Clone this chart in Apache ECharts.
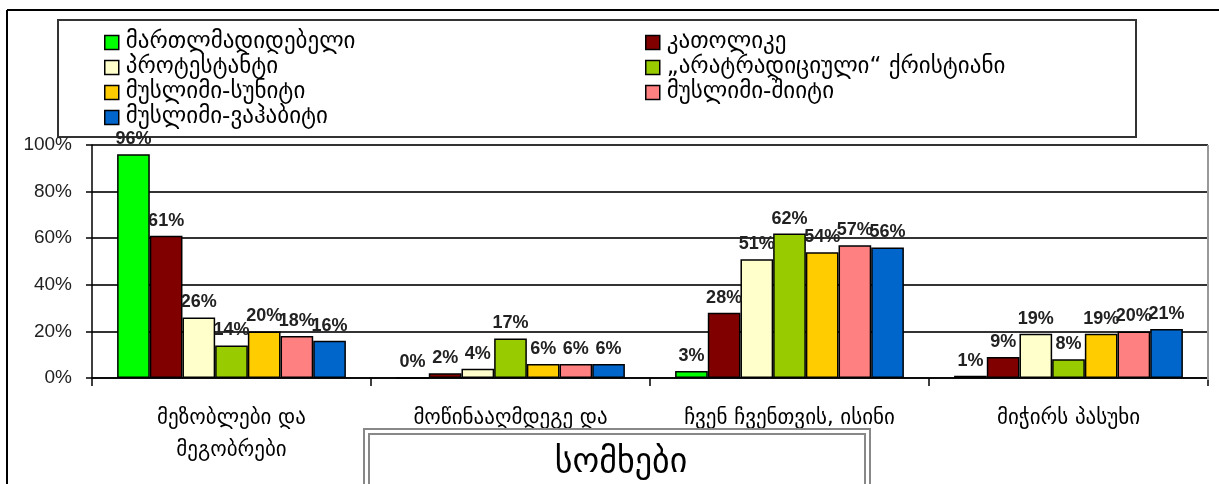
<!DOCTYPE html>
<html>
<head>
<meta charset="utf-8">
<script src="https://cdn.jsdelivr.net/npm/echarts@6/dist/echarts.min.js"></script>
<style>
html,body{margin:0;padding:0;background:#fff;}
#c{width:1219px;height:484px;}
</style>
</head>
<body>
<div id="c"></div>
<script>
const categories = [
  'მეზობლები და\nმეგობრები',
  'მოწინააღმდეგე და',
  'ჩვენ ჩვენთვის, ისინი',
  'მიჭირს პასუხი'
];
const seriesNames = [
  'მართლმადიდებელი',
  'კათოლიკე',
  'პროტესტანტი',
  '„არატრადიციული“ ქრისტიანი',
  'მუსლიმი-სუნიტი',
  'მუსლიმი-შიიტი',
  'მუსლიმი-ვაჰაბიტი'
];
const orthodox   = [96, 0, 3, 1];
const catholic   = [61, 2, 28, 9];
const protestant = [26, 4, 51, 19];
const nontrad    = [14, 17, 62, 8];
const sunni      = [20, 6, 54, 19];
const shia       = [18, 6, 57, 20];
const wahhabi    = [16, 6, 56, 21];
const yTicks = [0, 20, 40, 60, 80, 100];
const titleText = 'სომხები';

const colors = ['#00FF00', '#800000', '#FFFFCC', '#99CC00', '#FFCC00', '#FF8080', '#0066CC'];
const allData = [orthodox, catholic, protestant, nontrad, sunni, shia, wahhabi];

const geo = 'DejaVu Sans';
const chart = echarts.init(document.getElementById('c'));

const series = allData.map((d, i) => ({
  name: seriesNames[i],
  type: 'bar',
  data: d,
  barGap: 0,
  barCategoryGap: '18%',
  itemStyle: { color: colors[i], borderColor: '#000', borderWidth: 1.5 },
  label: {
    show: true, position: 'top', formatter: '{c}%', distance: 6,
    fontFamily: 'Liberation Sans', fontWeight: 'bold', fontSize: 18, color: '#222'
  }
}));

const legendCommon = {
  orient: 'vertical',
  itemWidth: 14, itemHeight: 14, itemGap: 2,
  icon: 'rect',
  selectedMode: false,
  itemStyle: { borderColor: '#000', borderWidth: 1.5 },
  textStyle: { fontFamily: geo, fontSize: 23, lineHeight: 18, color: '#000', padding: [0, 0, 0, 2] },
  padding: 0
};

chart.setOption({
  animation: false,
  backgroundColor: '#fff',
  legend: [
    Object.assign({}, legendCommon, { left: 104, top: 31, data: [seriesNames[0], seriesNames[2], seriesNames[4], seriesNames[6]] }),
    Object.assign({}, legendCommon, { left: 645, top: 31, data: [seriesNames[1], seriesNames[3], seriesNames[5]] })
  ],
  grid: { left: 92, right: 11, top: 145, bottom: 106 },
  xAxis: {
    type: 'category',
    data: categories,
    axisLine: { lineStyle: { color: '#000', width: 1.5 } },
    axisTick: { show: true, length: 8, lineStyle: { color: '#000', width: 1.5 } },
    axisLabel: { fontFamily: geo, fontSize: 21, color: '#000', margin: 25, lineHeight: 32 }
  },
  yAxis: {
    type: 'value',
    min: 0, max: 100, interval: 20,
    axisLine: { show: true, lineStyle: { color: '#000', width: 1.5 } },
    axisTick: { show: true, length: 6, lineStyle: { color: '#000', width: 1.5 } },
    axisLabel: {
      fontFamily: 'Liberation Sans', fontSize: 19, color: '#222', margin: 20,
      formatter: v => yTicks.includes(v) ? v + '%' : ''
    },
    splitLine: { lineStyle: { color: '#333', width: 2 } }
  },
  graphic: [
    { type: 'line', z: 100, shape: { x1: 7, y1: 10, x2: 1219, y2: 10 }, style: { stroke: '#000', lineWidth: 2 } },
    { type: 'line', z: 100, shape: { x1: 7, y1: 10, x2: 7, y2: 484 }, style: { stroke: '#000', lineWidth: 2 } },
    { type: 'rect', z: 0, shape: { x: 58, y: 20, width: 1078, height: 117 }, style: { fill: 'none', stroke: '#333', lineWidth: 2 } },
    { type: 'line', z: 100, shape: { x1: 1208, y1: 145, x2: 1208, y2: 380 }, style: { stroke: '#999', lineWidth: 2 } },
    { type: 'rect', z: 100, shape: { x: 364, y: 429, width: 506, height: 70 }, style: { fill: '#fff', stroke: '#888', lineWidth: 2 } },
    { type: 'rect', z: 101, shape: { x: 369, y: 434, width: 496, height: 60 }, style: { fill: '#fff', stroke: '#888', lineWidth: 2 } },
    { type: 'text', z: 102, x: 621, y: 463, style: { text: titleText, fontFamily: geo, fontSize: 34, fill: '#000', align: 'center', verticalAlign: 'middle' } }
  ],
  series: series
});
</script>
</body>
</html>
